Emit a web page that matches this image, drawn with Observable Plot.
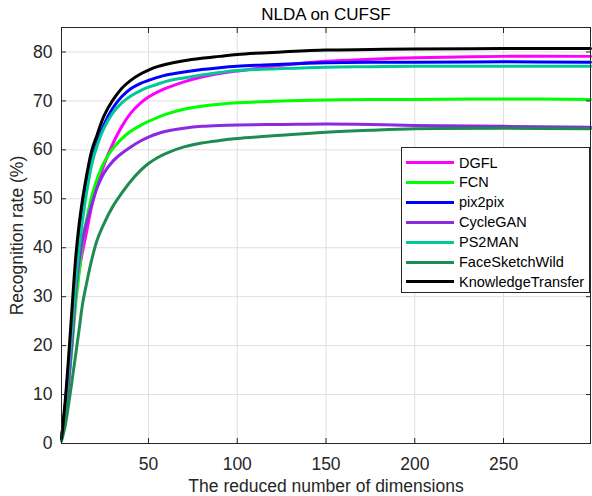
<!DOCTYPE html>
<html>
<head>
<meta charset="utf-8">
<script src="https://cdn.jsdelivr.net/npm/d3@7"></script>
<script src="https://cdn.jsdelivr.net/npm/@observablehq/plot@0.6"></script>
<style>
  html, body { margin: 0; padding: 0; background: #fff; }
  #wrap { position: relative; width: 592px; height: 496px; font-family: "Liberation Sans", Arial, sans-serif; }
  #legend { position: absolute; left: 401px; top: 147px; width: 189px; height: 146px; box-sizing: border-box;
            border: 1px solid #262626; background: #fff; }
  .row { position: absolute; left: 0; height: 20px; }
  .row .sw { position: absolute; left: 4px; top: 8.5px; width: 48px; height: 3px; }
  .row .lb { position: absolute; left: 57px; top: 0; font-size: 14.5px; line-height: 20px; color: #000; white-space: nowrap; }
</style>
</head>
<body>
<div id="wrap"><div id="chart"></div><div id="legend"></div></div>
<script>
const title = "NLDA on CUFSF";
const xLabel = "The reduced number of dimensions";
const yLabel = "Recognition rate (%)";
const xTicks = [50, 100, 150, 200, 250];
const yTicks = [0, 10, 20, 30, 40, 50, 60, 70, 80];

const dims = [1, 3, 5, 7, 9, 11, 13, 15, 18, 21, 25, 30, 35, 40, 45, 50, 55, 60, 70, 80, 90, 100, 125, 150, 175, 200, 250, 299];

const seriesNames = ["DGFL", "FCN", "pix2pix", "CycleGAN", "PS2MAN", "FaceSketchWild", "KnowledgeTransfer"];
const seriesColors = ["#ff00ff", "#00ff00", "#0000ff", "#8a2be2", "#00c896", "#1e8c50", "#000000"];

const dgfl     = [1, 7, 14, 22, 30, 35.5, 39.5, 43, 48.5, 52.5, 57, 61.3, 64.8, 67.5, 69.4, 70.8, 71.8, 72.6, 73.9, 74.9, 75.6, 76.1, 77.3, 78.1, 78.5, 78.8, 79.1, 79.1];
const fcn      = [1, 5.5, 12, 20, 28.5, 35, 41.5, 45.5, 50.5, 54, 57.5, 60.3, 62.3, 63.8, 64.9, 65.8, 66.6, 67.3, 68.3, 68.9, 69.3, 69.6, 70, 70.2, 70.3, 70.3, 70.4, 70.3];
const pix2pix  = [1, 7.5, 16, 25, 34.5, 42.5, 47.5, 52, 57.5, 61.3, 65.2, 68.6, 70.9, 72.5, 73.5, 74.2, 74.8, 75.3, 75.9, 76.4, 76.8, 77.1, 77.5, 77.8, 77.9, 77.9, 78, 77.9];
const cyclegan = [1, 5.5, 12.5, 21, 31, 37.5, 42, 45, 48.8, 52.2, 55.3, 57.7, 59.3, 60.6, 61.7, 62.6, 63.3, 63.8, 64.4, 64.8, 65, 65.1, 65.2, 65.3, 65.2, 65, 64.8, 64.6];
const ps2man   = [1, 7.2, 15.5, 24, 33, 40, 46, 51, 57, 60.8, 64.5, 67.6, 69.6, 71, 72, 72.8, 73.4, 74, 74.7, 75.3, 75.8, 76.2, 76.6, 76.9, 77, 77.1, 77.1, 77.1];
const fsw      = [0.5, 3.5, 8, 13, 18.2, 23.5, 28.8, 32.5, 37.5, 41.5, 45, 48.5, 51.2, 53.6, 55.6, 57.2, 58.4, 59.3, 60.6, 61.4, 61.9, 62.3, 63, 63.6, 64, 64.3, 64.4, 64.3];
const kt       = [1, 8.3, 17.6, 28, 38, 45, 50.2, 54.5, 59.8, 63, 67, 70.2, 72.6, 74.2, 75.4, 76.3, 77, 77.5, 78.2, 78.7, 79.1, 79.5, 80, 80.4, 80.5, 80.6, 80.7, 80.7];

const seriesValues = [dgfl, fcn, pix2pix, cyclegan, ps2man, fsw, kt];

const rows = [];
seriesNames.forEach((name, i) => {
  dims.forEach((d, j) => rows.push({series: name, x: d, y: seriesValues[i][j]}));
});

const axisColor = "#262626";
const gridColor = "#dfdfdf";

const plot = Plot.plot({
  width: 592,
  height: 496,
  marginLeft: 61,
  marginRight: 2,
  marginTop: 27,
  marginBottom: 53,
  style: {fontFamily: "'Liberation Sans', Arial, sans-serif", fontSize: "15px", color: axisColor, background: "#fff"},
  x: {domain: [1, 299]},
  y: {domain: [0, 85]},
  color: {domain: seriesNames, range: seriesColors},
  marks: [
    Plot.gridX(xTicks, {stroke: gridColor, strokeOpacity: 1}),
    Plot.gridY(yTicks, {stroke: gridColor, strokeOpacity: 1}),
    ...seriesNames.map((name) =>
      Plot.line(rows.filter(r => r.series === name), {x: "x", y: "y", stroke: "series", strokeWidth: 3, curve: "catmull-rom"})
    ),
    Plot.frame({stroke: axisColor, strokeWidth: 1}),
    Plot.axisX(xTicks, {anchor: "bottom", tickSize: -5, tickPadding: 19, stroke: axisColor, fill: axisColor,
      label: xLabel, labelAnchor: "center", labelOffset: 48, labelArrow: "none", fontSize: 17.5}),
    Plot.axisX(xTicks, {anchor: "top", tickSize: -5, tickFormat: () => "", label: null, stroke: axisColor}),
    Plot.axisY(yTicks, {anchor: "left", tickSize: -5, tickPadding: 14, stroke: axisColor, fill: axisColor,
      label: yLabel, labelAnchor: "center", labelOffset: 51, labelArrow: "none", fontSize: 17.5}),
    Plot.axisY(yTicks, {anchor: "right", tickSize: -5, tickFormat: () => "", label: null, stroke: axisColor}),
    Plot.text([title], {frameAnchor: "top", dy: -8, lineAnchor: "bottom", fontSize: 17, fill: "#000"})
  ]
});

document.getElementById("chart").appendChild(plot);

const legend = d3.select("#legend");
seriesNames.forEach((name, i) => {
  const r = legend.append("div").attr("class", "row").style("top", (4.5 + i * 19.9) + "px");
  r.append("div").attr("class", "sw").style("background", seriesColors[i]);
  r.append("div").attr("class", "lb").text(name);
});
</script>
</body>
</html>
